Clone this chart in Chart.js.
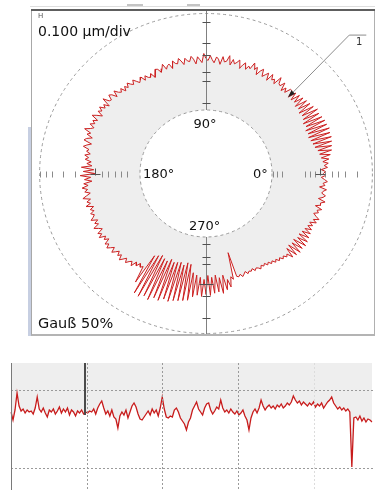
<!DOCTYPE html>
<html>
<head>
<meta charset="utf-8">
<script src="https://cdn.jsdelivr.net/npm/chart.js@4.4.1/dist/chart.umd.min.js"></script>
<style>
  html, body { margin: 0; padding: 0; background: #fff; }
  body { width: 375px; height: 490px; position: relative; overflow: hidden; font-family: "DejaVu Sans", sans-serif; color: #111; }
  .frame { position: absolute; left: 31px; top: 9px; width: 344px; height: 327px; box-sizing: border-box;
           border-left: 1px solid #a8a8a8; border-right: 1px solid #b0b0b0; border-bottom: 2px solid #b4b4b4; }
  .frametop { position: absolute; left: 31px; top: 9px; width: 344px; height: 2px; background: #5e5e5e; z-index: 5; }
  .strip { position: absolute; left: 28px; top: 127px; width: 3px; height: 209px; background: #c7cfe2; }
  .topline { position: absolute; left: 30px; top: 6px; width: 345px; height: 1px; background: #dedede; }
  .tab { position: absolute; top: 4px; height: 2px; background: #c4c4c4; }
  #polar { position: absolute; left: 32px; top: 11px; }
  #linear { position: absolute; left: 0; top: 345px; }
  .lbl { position: absolute; white-space: nowrap; line-height: 1; }
</style>
</head>
<body>
<div class="topline"></div>
<div class="tab" style="left:127px;width:16px"></div>
<div class="tab" style="left:187px;width:13px"></div>
<div class="strip"></div>
<div class="frame"></div>
<canvas id="polar" width="343" height="323"></canvas>
<canvas id="linear" width="375" height="145"></canvas>
<div class="frametop"></div>

<div class="lbl" style="left:38px;top:13px;font-size:7px;color:#555">H</div>
<div class="lbl" style="left:38px;top:24px;font-size:14px">0.100 µm/div</div>
<div class="lbl" style="left:205px;top:117px;font-size:13px;transform:translateX(-50%)">90°</div>
<div class="lbl" style="left:143px;top:167px;font-size:13px">180°</div>
<div class="lbl" style="left:253px;top:167px;font-size:13px">0°</div>
<div class="lbl" style="left:189px;top:219px;font-size:13px">270°</div>
<div class="lbl" style="left:38px;top:316px;font-size:14.5px">Gauß 50%</div>
<div class="lbl" style="left:356px;top:37px;font-size:10px;color:#333">1</div>

<script>
// roundness deviation, nm, one value per degree (0° = right, counter-clockwise)
const profileDevNm = [
  -5, 5, -15, 15, 0, 20, -5, 25, -10, 35,
  -15, 45, -20, 50, -30, 55, -35, 60, -40, 60,
  -45, 65, -40, 60, -45, 60, -35, 55, -40, 50,
  -30, 55, -25, 45, -30, 40, -20, 35, -25, 30,
  -15, 25, -20, 20, -20, 15, 15, -15, 5, -20,
  20, -5, 0, 30, -15, 5, -5, 20, -20, 15,
  0, -15, 20, 5, -20, 15, 0, 30, -5, 5,
  -15, 15, 0, -20, 20, 5, -5, 15, -15, 30,
  0, -5, 20, -20, 5, 15, -15, 0, 20, -5,
  5, 30, -15, 0, 15, -20, 5, 20, -5, 0,
  15, -15, 5, 20, -5, 0, 15, -20, 5, 0,
  -15, 15, -5, -20, 0, 5, -15, -30, -5, -20,
  -15, 0, -20, 5, -5, -15, 0, 15, -5, 5,
  20, 0, 15, -5, 20, 5, 15, 35, 5, 30,
  40, 15, 20, 50, 5, 30, 15, 40, 20, 35,
  5, 30, 50, 15, 35, 20, 40, 15, 30, 55,
  20, 35, 5, 30, 40, 0, 20, 35, 5, 15,
  -5, 20, 0, 15, -15, 5, -20, 30, -30, 20,
  -35, 35, -15, 15, -20, 20, 0, 30, 5, 20,
  -5, 15, 35, 0, 20, 5, 30, -5, 15, 0,
  20, 5, 15, 30, 0, 20, 5, 35, 15, 0,
  30, 15, 35, 5, 20, 0, 30, 15, 35, 20,
  5, 30, 15, 0, 20, 5, 30, 15, 0, 20,
  5, -5, 15, -15, 0, -20, -5, -15, 70, -90,
  120, -100, 125, -110, 110, -100, 120, -95, 100, -110,
  105, -100, 90, -105, 95, -110, 85, -100, 80, -115,
  75, -110, 70, -70, 50, -60, 40, -50, 45, -40,
  35, -60, 40, -50, 30, -60, 25, -45, 35, -55,
  20, -30, 10, -40, -25, -160, -35, -30, -40, -25,
  -35, -45, -30, -40, -35, -45, -30, -40, -35, -25,
  -40, -30, -40, -25, -35, -20, -30, -15, -25, -10,
  -20, -5, -15, 0, -10, 20, -30, 25, -35, 30,
  -30, 25, -35, 30, -25, 25, -30, 20, -25, 15,
  -20, 10, -15, 5, -15, 15, -5, 20, 0, -15,
  5, -5, 15, -20, 5, 0, 20, -15, 5, 15,
  -5, 0, 15, -20, 5, -5, 15, 0, -15, 5
];

// linear profile below, nm
const linearDevNm = [
  0, -40, 10, 95, 30, 5, 15, -5, 10, 0,
  5, -10, 20, 75, 15, 0, 20, -5, -25, 10,
  0, 15, -10, 5, 25, -5, 15, 0, 20, -15,
  10, 0, -20, 5, -5, 10, -10, 0, -5, 5,
  0, 15, -10, 20, 40, 55, 20, -10, 5, -20,
  10, -25, -35, -80, -20, 0, -15, 10, -30, 0,
  30, 45, 25, -10, -35, -40, -25, -10, 5, -15,
  15, -5, 10, -20, 20, 75, 15, -25, -30, -20,
  -25, 10, 20, 0, -30, -45, -60, -90, -50, -30,
  10, 30, 50, 15, 0, -15, 20, 40, 45, 10,
  -10, 5, 25, 15, 60, 20, 0, 10, -5, 15,
  0, -10, 5, -15, -5, 10, -20, -40, -90, -30,
  0, 15, -5, 20, 60, 30, 10, 25, 35, 20,
  30, 15, 35, 25, 40, 20, 30, 45, 35, 50,
  80, 60, 45, 55, 35, 50, 40, 30, 45, 35,
  50, 25, 40, 30, 45, 20, 35, 50, 60, 75,
  45, 30, 15, 25, 10, 20, 5, 15, 0, -275,
  -30, -25, -40, -20, -45, -30, -50, -35, -40, -50
];

const MAG = 0.2;          // plot units per nm
const R_BASE = 114;       // plot units
const R_INNER = 63.5;
const R_OUTER = 160;
const X_STRETCH = 1.04;
const LEADER_INDEX = 44;

const POLAR_W = 343, POLAR_H = 323, PCX = 174, PCY = 162.5;

const vTickUp = [70, 92, 102, 118.5, 131, 152];
const vTickDown = [70.5, 83, 90, 122, 144];
const hTickLeft = [76, 82, 87.5, 94, 100, 126, 137.5, 148, 154, 160];
const hTickRight = [64, 68, 73, 95, 100, 105, 114, 121, 127, 134, 145];
const crossDown = 110, crossLeft = 107, crossRight = 110;

const LIN_GRID_Y = [110, -280];
const LIN_GRID_X = [37.5, 75, 112.5, 150];
const CURSOR_INDEX = 37;

const stepDeg = 360 / profileDevNm.length;
const polarPoints = profileDevNm.concat(profileDevNm[0]).map((d, i) => {
  const a = i * stepDeg * Math.PI / 180;
  const r = R_BASE + d * MAG;
  return { x: r * Math.cos(a), y: r * Math.sin(a) };
});

const polarDecor = {
  id: 'polarDecor',
  afterDatasetsDraw(chart) {
    const { ctx, chartArea } = chart;
    const xs = chart.scales.x, ys = chart.scales.y;
    const cx = xs.getPixelForValue(0), cy = ys.getPixelForValue(0);
    const rx = v => xs.getPixelForValue(v) - cx;
    const ry = v => cy - ys.getPixelForValue(v);
    ctx.save();
    ctx.lineWidth = 1;

    // inner / outer reference circles
    ctx.beginPath();
    ctx.ellipse(cx, cy, rx(R_INNER), ry(R_INNER), 0, 0, 2 * Math.PI);
    ctx.fillStyle = '#fff';
    ctx.fill();
    ctx.setLineDash([3, 3]);
    ctx.strokeStyle = '#9a9a9a';
    ctx.stroke();
    ctx.beginPath();
    ctx.ellipse(cx, cy, rx(R_OUTER), ry(R_OUTER), 0, 0, 2 * Math.PI);
    ctx.stroke();
    ctx.setLineDash([]);

    // vertical axis
    const vx = Math.round(cx) + 0.5;
    ctx.strokeStyle = '#808080';
    ctx.beginPath();
    ctx.moveTo(vx, chartArea.top);
    ctx.lineTo(vx, cy - ry(R_INNER));
    ctx.moveTo(vx, cy + ry(R_INNER));
    ctx.lineTo(vx, chartArea.bottom);
    ctx.stroke();

    ctx.strokeStyle = '#505050';
    ctx.beginPath();
    vTickUp.forEach(r => {
      const y = Math.round(cy - ry(r)) + 0.5;
      ctx.moveTo(vx - 4, y); ctx.lineTo(vx + 4, y);
    });
    vTickDown.forEach(r => {
      const y = Math.round(cy + ry(r)) + 0.5;
      ctx.moveTo(vx - 4, y); ctx.lineTo(vx + 4, y);
    });
    const yc = Math.round(cy + ry(crossDown)) + 0.5;
    ctx.moveTo(vx - 7, yc); ctx.lineTo(vx + 7, yc);
    ctx.stroke();

    // horizontal axis ticks
    const hy = Math.round(cy) + 0.5;
    ctx.strokeStyle = '#8a8a8a';
    ctx.beginPath();
    hTickLeft.forEach(r => {
      const x = Math.round(cx - rx(r)) + 0.5;
      ctx.moveTo(x, hy - 3); ctx.lineTo(x, hy + 3);
    });
    hTickRight.forEach(r => {
      const x = Math.round(cx + rx(r)) + 0.5;
      ctx.moveTo(x, hy - 3); ctx.lineTo(x, hy + 3);
    });
    ctx.stroke();
    ctx.strokeStyle = '#555';
    ctx.beginPath();
    [cx - rx(crossLeft), cx + rx(crossRight)].forEach(x0 => {
      const x = Math.round(x0) + 0.5;
      ctx.moveTo(x, hy - 6); ctx.lineTo(x, hy + 1);
      ctx.moveTo(x - 5, hy); ctx.lineTo(x + 5, hy);
    });
    ctx.stroke();

    // leader for label "1"
    const tip = chart.getDatasetMeta(0).data[LEADER_INDEX];
    const ex = tip.x + 61, ey = tip.y - 62;
    ctx.strokeStyle = '#8c8c8c';
    ctx.beginPath();
    ctx.moveTo(tip.x, tip.y);
    ctx.lineTo(ex, ey);
    ctx.lineTo(ex + 17, ey);
    ctx.stroke();
    const ang = Math.atan2(tip.y - ey, tip.x - ex);
    ctx.fillStyle = '#222';
    ctx.beginPath();
    ctx.moveTo(tip.x, tip.y);
    ctx.lineTo(tip.x - 7 * Math.cos(ang) + 2.5 * Math.sin(ang), tip.y - 7 * Math.sin(ang) - 2.5 * Math.cos(ang));
    ctx.lineTo(tip.x - 7 * Math.cos(ang) - 2.5 * Math.sin(ang), tip.y - 7 * Math.sin(ang) + 2.5 * Math.cos(ang));
    ctx.closePath();
    ctx.fill();
    ctx.restore();
  }
};

new Chart(document.getElementById('polar'), {
  type: 'line',
  data: {
    datasets: [{
      data: polarPoints,
      borderColor: 'rgb(204, 32, 32)',
      borderWidth: 1,
      backgroundColor: '#eeeeee',
      fill: 'shape',
      pointRadius: 0,
      tension: 0
    }]
  },
  options: {
    responsive: false,
    animation: false,
    devicePixelRatio: 1,
    events: [],
    layout: { padding: 0 },
    plugins: { legend: { display: false }, tooltip: { enabled: false } },
    scales: {
      x: { type: 'linear', display: false, min: -PCX / X_STRETCH, max: (POLAR_W - PCX) / X_STRETCH },
      y: { type: 'linear', display: false, min: -(POLAR_H - PCY), max: PCY }
    }
  },
  plugins: [polarDecor]
});

const linearDecor = {
  id: 'linearDecor',
  afterDatasetsDraw(chart) {
    const { ctx, chartArea: a } = chart;
    const xs = chart.scales.x, ys = chart.scales.y;
    ctx.save();
    ctx.lineWidth = 1;
    ctx.setLineDash([2, 2]);
    ctx.strokeStyle = '#9a9a9a';
    LIN_GRID_Y.forEach(v => {
      const y = Math.round(ys.getPixelForValue(v)) + 0.5;
      ctx.beginPath(); ctx.moveTo(a.left, y); ctx.lineTo(chart.width, y); ctx.stroke();
    });
    LIN_GRID_X.forEach((v, k) => {
      const x = Math.round(xs.getPixelForValue(v)) + 0.5;
      ctx.strokeStyle = k === LIN_GRID_X.length - 1 ? '#dcdcdc' : '#9a9a9a';
      ctx.beginPath(); ctx.moveTo(x, a.top); ctx.lineTo(x, a.bottom); ctx.stroke();
    });
    ctx.setLineDash([]);
    ctx.strokeStyle = '#7a7a7a';
    ctx.beginPath();
    ctx.moveTo(a.left + 0.5, a.top); ctx.lineTo(a.left + 0.5, a.bottom);
    ctx.stroke();
    const cxp = xs.getPixelForValue(CURSOR_INDEX - 0.3);
    const cyp = ys.getPixelForValue(linearDevNm[CURSOR_INDEX]);
    ctx.strokeStyle = '#4a4a4a';
    ctx.lineWidth = 2;
    ctx.beginPath();
    ctx.moveTo(cxp, a.top); ctx.lineTo(cxp, cyp + 3);
    ctx.stroke();
    ctx.restore();
  }
};

new Chart(document.getElementById('linear'), {
  type: 'line',
  data: {
    labels: linearDevNm.map((_, i) => i),
    datasets: [{
      data: linearDevNm,
      borderColor: 'rgb(200, 28, 28)',
      borderWidth: 1.3,
      backgroundColor: '#eeeeee',
      fill: 'end',
      pointRadius: 0,
      tension: 0
    }]
  },
  options: {
    responsive: false,
    animation: false,
    devicePixelRatio: 1,
    events: [],
    layout: { padding: { left: 11, right: 3, top: 18, bottom: 0 } },
    plugins: { legend: { display: false }, tooltip: { enabled: false } },
    scales: {
      x: { type: 'category', display: false, offset: false },
      y: { type: 'linear', display: false, min: -390, max: 245 }
    }
  },
  plugins: [linearDecor]
});
</script>
</body>
</html>
